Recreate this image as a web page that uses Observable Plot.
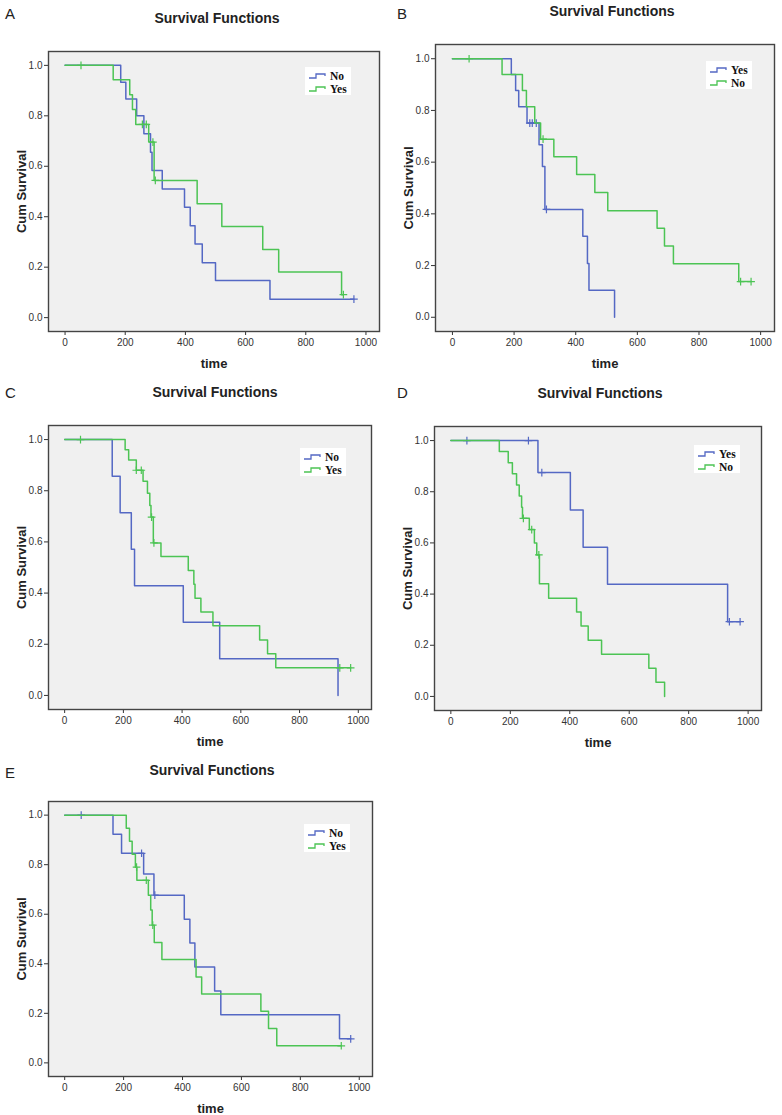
<!DOCTYPE html>
<html><head><meta charset="utf-8">
<script src="https://cdn.jsdelivr.net/npm/d3@7"></script>
<script src="https://cdn.jsdelivr.net/npm/@observablehq/plot@0.6"></script>
<style>
body{margin:0;background:#fff;font-family:Arial,"Liberation Sans",sans-serif;}
#page{position:relative;width:782px;height:1115px;overflow:hidden;background:#fff;}
.letter{position:absolute;font-size:15px;line-height:1;color:#222;}
.title{position:absolute;font-weight:bold;font-size:14px;line-height:1;color:#222;white-space:nowrap;transform:translate(-50%,-50%);}
.box{position:absolute;}
</style></head><body><div id="page"></div>
<script>
// ---------- data ----------
const xTicks = [0, 200, 400, 600, 800, 1000];
const yTicks = [0, 0.2, 0.4, 0.6, 0.8, 1.0];

// Panel A
const aNoTime  = [0,185,202,238,262,284,289,323,397,416,432,456,500,681];
const aNoSurv  = [1,0.933,0.867,0.8,0.729,0.656,0.583,0.51,0.438,0.364,0.292,0.218,0.147,0.073];
const aNoCens  = [960];
const aYesTime = [0,160,215,224,235,278,296,439,521,657,710,919];
const aYesSurv = [1,0.943,0.884,0.825,0.766,0.696,0.544,0.451,0.361,0.27,0.181,0.091];
const aYesCens = [53,257,270,292,300,925];

// Panel B
const bYesTime = [0,191,205,215,242,281,292,300,423,438,443,526];
const bYesSurv = [1,0.939,0.877,0.814,0.751,0.667,0.583,0.417,0.313,0.208,0.105,0];
const bYesCens = [251,259,272,305];
const bNoTime  = [0,161,227,240,267,286,329,403,462,504,664,688,717,929];
const bNoSurv  = [1,0.939,0.877,0.814,0.751,0.689,0.621,0.552,0.483,0.412,0.344,0.276,0.207,0.138];
const bNoCens  = [54,294,935,969];

// Panel C
const cNoTime  = [0,162,189,227,238,404,528,931];
const cNoSurv  = [1,0.857,0.714,0.571,0.429,0.286,0.143,0];
const cNoCens  = [];
const cYesTime = [0,206,218,244,267,282,290,294,302,328,421,440,444,464,505,664,691,719];
const cYesSurv = [1,0.96,0.92,0.88,0.837,0.79,0.742,0.697,0.596,0.543,0.488,0.435,0.38,0.326,0.272,0.217,0.163,0.108];
const cYesCens = [54,244,261,296,304,937,974];

// Panel D
const dYesTime = [0,293,402,445,527,931];
const dYesSurv = [1,0.875,0.729,0.583,0.438,0.292];
const dYesCens = [54,261,306,937,973];
const dNoTime  = [0,163,193,207,221,230,238,241,264,281,289,298,329,423,438,462,507,666,690,719];
const dNoSurv  = [1,0.957,0.913,0.87,0.826,0.783,0.739,0.696,0.652,0.6,0.553,0.44,0.384,0.33,0.275,0.22,0.165,0.11,0.055,0];
const dNoCens  = [244,272,296];

// Panel E
const eNoTime  = [0,164,193,268,303,406,425,442,509,530,933];
const eNoSurv  = [1,0.923,0.846,0.762,0.677,0.58,0.484,0.387,0.29,0.194,0.097];
const eNoCens  = [56,261,306,971];
const eYesTime = [0,209,220,229,240,245,284,292,297,304,330,446,465,666,692,720];
const eYesSurv = [1,0.947,0.895,0.842,0.79,0.737,0.677,0.617,0.556,0.486,0.417,0.347,0.278,0.208,0.139,0.069];
const eYesCens = [244,277,299,939];

const panelLetters = ["A","B","C","D","E"];
const titleText = "Survival Functions";
const yLabel = "Cum Survival";
const xLabel = "time";

// ---------- styling / layout ----------
const BLUE = "#5468c4";
const GREEN = "#4cc454";

const layout = [
  {left:0,   top:30,  width:390, height:345, mt:21, mr:11, mb:44, ml:48, title:[217,18],  letter:[5,6],   legend:[305,67]},
  {left:392, top:30,  width:390, height:345, mt:14, mr:8,  mb:44, ml:43, title:[612,11],  letter:[397,6], legend:[706,61]},
  {left:0,   top:405, width:390, height:345, mt:20, mr:19, mb:41, ml:48, title:[215,392], letter:[5,385], legend:[300,448]},
  {left:392, top:405, width:390, height:345, mt:21, mr:21, mb:40, ml:42, title:[600,393], letter:[397,385],legend:[694,445]},
  {left:0,   top:780, width:390, height:335, mt:21, mr:18, mb:39, ml:48, title:[212,770], letter:[5,765], legend:[304,824]}
];

const series = [
  {blue:{name:"No",  t:aNoTime,  s:aNoSurv,  c:aNoCens},  green:{name:"Yes", t:aYesTime, s:aYesSurv, c:aYesCens}},
  {blue:{name:"Yes", t:bYesTime, s:bYesSurv, c:bYesCens}, green:{name:"No",  t:bNoTime,  s:bNoSurv,  c:bNoCens}},
  {blue:{name:"No",  t:cNoTime,  s:cNoSurv,  c:cNoCens},  green:{name:"Yes", t:cYesTime, s:cYesSurv, c:cYesCens}},
  {blue:{name:"Yes", t:dYesTime, s:dYesSurv, c:dYesCens}, green:{name:"No",  t:dNoTime,  s:dNoSurv,  c:dNoCens}},
  {blue:{name:"No",  t:eNoTime,  s:eNoSurv,  c:eNoCens},  green:{name:"Yes", t:eYesTime, s:eYesSurv, c:eYesCens}}
];

function survAt(times, survs, t) {
  let s = survs[0];
  for (let i = 0; i < times.length; i++) if (times[i] <= t) s = survs[i];
  return s;
}
function stepData(d) {
  const pts = d.t.map((t, i) => ({t, s: d.s[i]}));
  const last = d.t[d.t.length - 1];
  const end = d3.max(d.c.concat([last]));
  if (end > last) pts.push({t: end, s: d.s[d.s.length - 1]});
  return pts;
}
function censData(d) {
  return d.c.map(t => ({t, s: survAt(d.t, d.s, t)}));
}

const page = document.getElementById("page");

layout.forEach((L, i) => {
  const S = series[i];
  const letter = document.createElement("div");
  letter.className = "letter";
  letter.style.left = L.letter[0] + "px";
  letter.style.top = L.letter[1] + "px";
  letter.textContent = panelLetters[i];
  page.appendChild(letter);

  const title = document.createElement("div");
  title.className = "title";
  title.style.left = L.title[0] + "px";
  title.style.top = L.title[1] + "px";
  title.textContent = titleText;
  page.appendChild(title);

  const chart = Plot.plot({
    width: L.width, height: L.height,
    marginTop: L.mt, marginRight: L.mr, marginBottom: L.mb, marginLeft: L.ml,
    style: {background: "transparent", fontFamily: "Arial, 'Liberation Sans', sans-serif", fontSize: "10px", color: "#333", overflow: "visible"},
    x: {domain: [-55, 1045]},
    y: {domain: [-0.055, 1.055]},
    marks: [
      Plot.frame({fill: "#f0f0f0"}),
      Plot.axisY({ticks: yTicks, tickFormat: d3.format(".1f"), tickSize: 4, tickPadding: 2, label: null}),
      Plot.axisY({ticks: [], tickSize: 0, label: yLabel, labelAnchor: "center", labelArrow: "none", labelOffset: 32, fontWeight: "bold", fontSize: 13, fill: "#222"}),
      Plot.axisX({ticks: xTicks, tickFormat: d3.format("d"), tickSize: 4, tickPadding: 3, label: null}),
      Plot.axisX({ticks: [], tickSize: 0, label: xLabel, labelAnchor: "center", labelArrow: "none", labelOffset: 36, fontWeight: "bold", fontSize: 13, fill: "#222"}),
      Plot.line(stepData(S.blue), {x: "t", y: "s", curve: "step-after", stroke: BLUE, strokeWidth: 1.5}),
      Plot.dot(censData(S.blue), {x: "t", y: "s", symbol: "plus", r: 2.6, stroke: BLUE, strokeWidth: 1.2}),
      Plot.line(stepData(S.green), {x: "t", y: "s", curve: "step-after", stroke: GREEN, strokeWidth: 1.5}),
      Plot.dot(censData(S.green), {x: "t", y: "s", symbol: "plus", r: 2.6, stroke: GREEN, strokeWidth: 1.2}),
      Plot.frame({stroke: "#444", strokeWidth: 1.4})
    ]
  });
  const box = document.createElement("div");
  box.className = "box";
  box.style.left = L.left + "px";
  box.style.top = L.top + "px";
  box.appendChild(chart);
  page.appendChild(box);

  // legend
  const lg = d3.create("svg").attr("width", 46).attr("height", 28)
    .style("position", "absolute").style("left", L.legend[0] + "px").style("top", L.legend[1] + "px");
  lg.append("rect").attr("width", 46).attr("height", 28).attr("fill", "#fff");
  [[S.blue.name, BLUE], [S.green.name, GREEN]].forEach(([name, col], j) => {
    const y0 = 2 + j * 13;
    lg.append("path").attr("d", `M4,${y0 + 9}H11V${y0 + 5}H20V${y0 + 7}`)
      .attr("fill", "none").attr("stroke", col).attr("stroke-width", 1.3);
    lg.append("text").attr("x", 25).attr("y", y0 + 10.5).text(name)
      .attr("font-family", "'Liberation Serif','DejaVu Serif',serif").attr("font-weight", "bold")
      .attr("font-size", 11.5).attr("fill", "#111");
  });
  page.appendChild(lg.node());
});
</script></body></html>
